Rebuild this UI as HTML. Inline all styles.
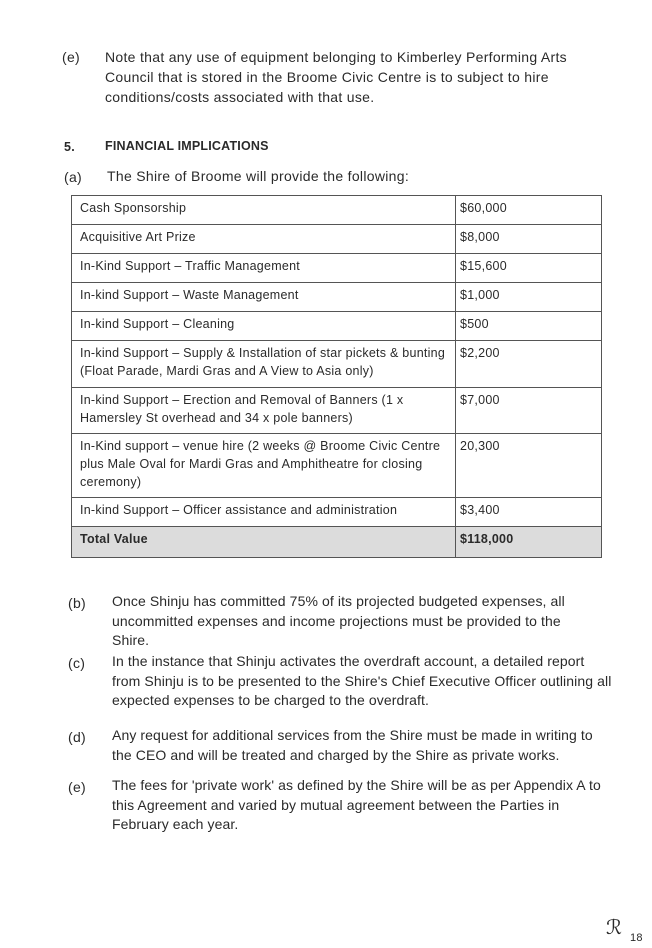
<!DOCTYPE html>
<html><head><style>
body{margin:0;width:652px;height:947px;background:#fff;position:relative;overflow:hidden;font-family:"Liberation Sans",sans-serif;color:#2a2a2a;font-size:14px;letter-spacing:0.3px}
.t{position:absolute;white-space:nowrap;line-height:20px}
.b{letter-spacing:0.1px}
table{position:absolute;left:71px;top:195px;width:531px;border-collapse:collapse;font-size:12.5px;letter-spacing:0.25px}
td{border:1.3px solid #555;vertical-align:top;padding:3px 5px 0 8px;line-height:18px}
td.v{width:136px;padding-left:4px}
tr.tot td{background:#dcdcdc;font-weight:bold}
</style></head><body>
<div class="t" style="left:62px;top:47px">(e)</div>
<div class="t" style="left:105px;top:47px">Note that any use of equipment belonging to Kimberley Performing Arts<br>Council that is stored in the Broome Civic Centre is to subject to hire<br>conditions/costs associated with that use.</div>
<div class="t" style="left:64px;top:137px;font-weight:bold;font-size:12.5px">5.</div>
<div class="t" style="left:105px;top:136px;font-weight:bold;font-size:12.5px;letter-spacing:0.2px">FINANCIAL IMPLICATIONS</div>
<div class="t" style="left:64px;top:167px">(a)</div>
<div class="t" style="left:107px;top:166px">The Shire of Broome will provide the following:</div>
<table>
<tr style="height:29px"><td>Cash Sponsorship</td><td class="v">$60,000</td></tr>
<tr style="height:29px"><td>Acquisitive Art Prize</td><td class="v">$8,000</td></tr>
<tr style="height:29px"><td>In-Kind Support – Traffic Management</td><td class="v">$15,600</td></tr>
<tr style="height:29px"><td>In-kind Support – Waste Management</td><td class="v">$1,000</td></tr>
<tr style="height:29px"><td>In-kind Support – Cleaning</td><td class="v">$500</td></tr>
<tr style="height:47px"><td>In-kind Support – Supply &amp; Installation of star pickets &amp; bunting<br>(Float Parade, Mardi Gras and A View to Asia only)</td><td class="v">$2,200</td></tr>
<tr style="height:46px"><td>In-kind Support – Erection and Removal of Banners (1 x<br>Hamersley St overhead and 34 x pole banners)</td><td class="v">$7,000</td></tr>
<tr style="height:64px"><td>In-Kind support – venue hire (2 weeks @ Broome Civic Centre<br>plus Male Oval for Mardi Gras and Amphitheatre for closing<br>ceremony)</td><td class="v">20,300</td></tr>
<tr style="height:29px"><td>In-kind Support – Officer assistance and administration</td><td class="v">$3,400</td></tr>
<tr class="tot" style="height:31px"><td>Total Value</td><td class="v">$118,000</td></tr>
</table>
<div class="t" style="left:68px;top:593px">(b)</div>
<div class="t b" style="left:112px;top:592px;line-height:19.5px">Once Shinju has committed 75% of its projected budgeted expenses, all<br>uncommitted expenses and income projections must be provided to the<br>Shire.</div>
<div class="t" style="left:68px;top:653px">(c)</div>
<div class="t b" style="left:112px;top:652px;line-height:19.5px">In the instance that Shinju activates the overdraft account, a detailed report<br>from Shinju is to be presented to the Shire's Chief Executive Officer outlining all<br>expected expenses to be charged to the overdraft.</div>
<div class="t" style="left:68px;top:727px">(d)</div>
<div class="t b" style="left:112px;top:726px;line-height:19.5px">Any request for additional services from the Shire must be made in writing to<br>the CEO and will be treated and charged by the Shire as private works.</div>
<div class="t" style="left:68px;top:777px">(e)</div>
<div class="t b" style="left:112px;top:776px;line-height:19.5px">The fees for 'private work' as defined by the Shire will be as per Appendix A to<br>this Agreement and varied by mutual agreement between the Parties in<br>February each year.</div>
<div class="t" style="left:606px;top:918px;font-size:20px;font-family:'Liberation Serif',serif">ℛ</div>
<div class="t" style="left:630px;top:928px;font-size:11px">18</div>
</body></html>
